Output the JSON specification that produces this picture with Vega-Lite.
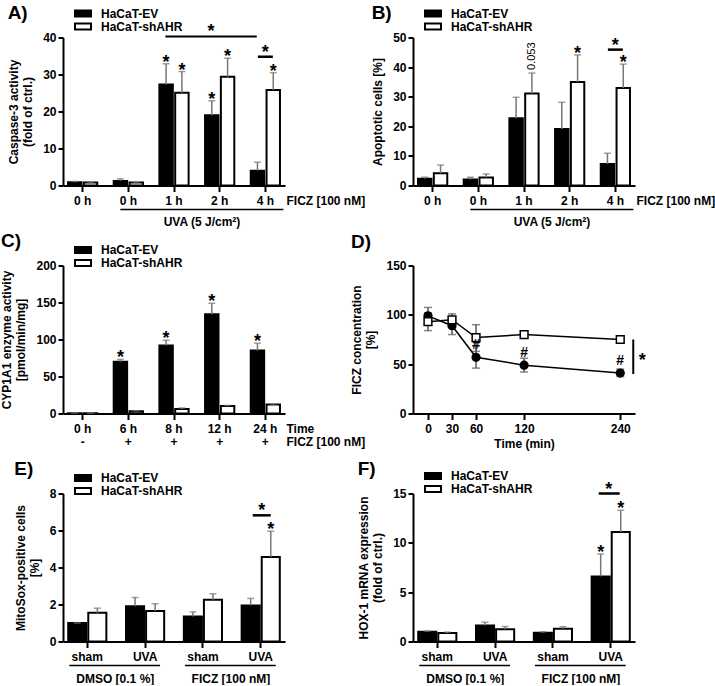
{
  "$schema": "https://vega.github.io/schema/vega-lite/v6.json",
  "padding": {"left": 0, "top": 3.5, "right": 0, "bottom": 0},
  "columns": 2,
  "spacing": {"column": 128, "row": 80},
  "bounds": "flush",
  "align": "each",
  "resolve": {"scale": {"x": "independent", "y": "independent", "xOffset": "independent", "fill": "independent", "shape": "independent"}, "legend": {"fill": "independent", "shape": "independent"}},
  "datasets": {
    "A": [
      {"grp": "0 h", "cell": "HaCaT-EV", "mean": 0.9, "hi": 1.1, "star": ""},
      {"grp": "0 h", "cell": "HaCaT-shAHR", "mean": 0.8, "hi": 0.9, "star": ""},
      {"grp": "0 h UVA", "cell": "HaCaT-EV", "mean": 1.2, "hi": 1.8, "star": ""},
      {"grp": "0 h UVA", "cell": "HaCaT-shAHR", "mean": 0.8, "hi": 0.9, "star": ""},
      {"grp": "1 h", "cell": "HaCaT-EV", "mean": 27.3, "hi": 32.9, "star": "*"},
      {"grp": "1 h", "cell": "HaCaT-shAHR", "mean": 25.1, "hi": 30.8, "star": "*"},
      {"grp": "2 h", "cell": "HaCaT-EV", "mean": 19.0, "hi": 22.9, "star": "*"},
      {"grp": "2 h", "cell": "HaCaT-shAHR", "mean": 29.4, "hi": 34.4, "star": "*"},
      {"grp": "4 h", "cell": "HaCaT-EV", "mean": 4.0, "hi": 6.3, "star": ""},
      {"grp": "4 h", "cell": "HaCaT-shAHR", "mean": 25.8, "hi": 30.5, "star": "*"}
    ],
    "A_pair": [{"grp": "4 h", "level": 34.8, "lab": "*"}],
    "A_long": [{"from": "1 h", "to": "4 h", "mid": "2 h", "level": 40.3, "lab": "*"}],
    "UVA_line": [{"from": "0 h UVA", "to": "4 h", "mid": "1 h", "lab": "UVA (5 J/cm²)"}],
    "B": [
      {"grp": "0 h", "cell": "HaCaT-EV", "mean": 2.3, "hi": 2.8, "star": "", "note": ""},
      {"grp": "0 h", "cell": "HaCaT-shAHR", "mean": 4.1, "hi": 6.9, "star": "", "note": ""},
      {"grp": "0 h UVA", "cell": "HaCaT-EV", "mean": 2.0, "hi": 2.8, "star": "", "note": ""},
      {"grp": "0 h UVA", "cell": "HaCaT-shAHR", "mean": 2.7, "hi": 3.9, "star": "", "note": ""},
      {"grp": "1 h", "cell": "HaCaT-EV", "mean": 22.7, "hi": 29.8, "star": "", "note": ""},
      {"grp": "1 h", "cell": "HaCaT-shAHR", "mean": 31.1, "hi": 38.0, "star": "", "note": "0.053"},
      {"grp": "2 h", "cell": "HaCaT-EV", "mean": 19.1, "hi": 28.1, "star": "", "note": ""},
      {"grp": "2 h", "cell": "HaCaT-shAHR", "mean": 35.0, "hi": 44.1, "star": "*", "note": ""},
      {"grp": "4 h", "cell": "HaCaT-EV", "mean": 7.3, "hi": 10.9, "star": "", "note": ""},
      {"grp": "4 h", "cell": "HaCaT-shAHR", "mean": 32.9, "hi": 41.0, "star": "*", "note": ""}
    ],
    "B_pair": [{"grp": "4 h", "level": 45.9, "lab": "*"}],
    "C": [
      {"grp": "0 h", "cell": "HaCaT-EV", "mean": 0.5, "hi": 0.6, "star": ""},
      {"grp": "0 h", "cell": "HaCaT-shAHR", "mean": 0.3, "hi": 0.4, "star": ""},
      {"grp": "6 h", "cell": "HaCaT-EV", "mean": 70, "hi": 73, "star": "*"},
      {"grp": "6 h", "cell": "HaCaT-shAHR", "mean": 3, "hi": 3.8, "star": ""},
      {"grp": "8 h", "cell": "HaCaT-EV", "mean": 92, "hi": 99, "star": "*"},
      {"grp": "8 h", "cell": "HaCaT-shAHR", "mean": 6, "hi": 7.5, "star": ""},
      {"grp": "12 h", "cell": "HaCaT-EV", "mean": 134, "hi": 149, "star": "*"},
      {"grp": "12 h", "cell": "HaCaT-shAHR", "mean": 10, "hi": 11, "star": ""},
      {"grp": "24 h", "cell": "HaCaT-EV", "mean": 85, "hi": 95, "star": "*"},
      {"grp": "24 h", "cell": "HaCaT-shAHR", "mean": 12, "hi": 13, "star": ""}
    ],
    "D": [
      {"t": 0, "g": "HaCaT-EV", "mean": 99, "lo": 91, "hi": 107.5, "hash": ""},
      {"t": 30, "g": "HaCaT-EV", "mean": 89, "lo": 80, "hi": 97.5, "hash": ""},
      {"t": 60, "g": "HaCaT-EV", "mean": 57, "lo": 46, "hi": 68.5, "hash": "#"},
      {"t": 120, "g": "HaCaT-EV", "mean": 49, "lo": 42, "hi": 56, "hash": "#"},
      {"t": 240, "g": "HaCaT-EV", "mean": 41, "lo": 37.5, "hi": 45, "hash": "#"},
      {"t": 0, "g": "HaCaT-shAHR", "mean": 93, "lo": 84, "hi": 102, "hash": ""},
      {"t": 30, "g": "HaCaT-shAHR", "mean": 95, "lo": 89, "hi": 101, "hash": ""},
      {"t": 60, "g": "HaCaT-shAHR", "mean": 77, "lo": 63, "hi": 90, "hash": ""},
      {"t": 120, "g": "HaCaT-shAHR", "mean": 80, "lo": 77, "hi": 83, "hash": ""},
      {"t": 240, "g": "HaCaT-shAHR", "mean": 75, "lo": 72, "hi": 78, "hash": ""}
    ],
    "D_sig": [{"t": 240, "low": 40, "high": 75, "lab": "*"}],
    "E": [
      {"grp": "DMSO sham", "cell": "HaCaT-EV", "mean": 1.0, "hi": 1.0, "star": ""},
      {"grp": "DMSO sham", "cell": "HaCaT-shAHR", "mean": 1.55, "hi": 1.8, "star": ""},
      {"grp": "DMSO UVA", "cell": "HaCaT-EV", "mean": 1.9, "hi": 2.38, "star": ""},
      {"grp": "DMSO UVA", "cell": "HaCaT-shAHR", "mean": 1.65, "hi": 2.04, "star": ""},
      {"grp": "FICZ sham", "cell": "HaCaT-EV", "mean": 1.35, "hi": 1.6, "star": ""},
      {"grp": "FICZ sham", "cell": "HaCaT-shAHR", "mean": 2.26, "hi": 2.58, "star": ""},
      {"grp": "FICZ UVA", "cell": "HaCaT-EV", "mean": 1.95, "hi": 2.33, "star": ""},
      {"grp": "FICZ UVA", "cell": "HaCaT-shAHR", "mean": 4.57, "hi": 5.96, "star": "*"}
    ],
    "E_pair": [{"grp": "FICZ UVA", "level": 6.82, "lab": "*"}],
    "F": [
      {"grp": "DMSO sham", "cell": "HaCaT-EV", "mean": 1.0, "hi": 1.05, "star": ""},
      {"grp": "DMSO sham", "cell": "HaCaT-shAHR", "mean": 0.85, "hi": 0.95, "star": ""},
      {"grp": "DMSO UVA", "cell": "HaCaT-EV", "mean": 1.62, "hi": 1.95, "star": ""},
      {"grp": "DMSO UVA", "cell": "HaCaT-shAHR", "mean": 1.25, "hi": 1.52, "star": ""},
      {"grp": "FICZ sham", "cell": "HaCaT-EV", "mean": 0.88, "hi": 1.0, "star": ""},
      {"grp": "FICZ sham", "cell": "HaCaT-shAHR", "mean": 1.3, "hi": 1.5, "star": ""},
      {"grp": "FICZ UVA", "cell": "HaCaT-EV", "mean": 6.6, "hi": 8.87, "star": "*"},
      {"grp": "FICZ UVA", "cell": "HaCaT-shAHR", "mean": 11.1, "hi": 13.3, "star": "*"}
    ],
    "F_pair": [{"grp": "FICZ UVA", "level": 15.0, "lab": "*"}],
    "treat": [
      {"from": "DMSO sham", "to": "DMSO UVA", "lab": "DMSO [0.1 %]"},
      {"from": "FICZ sham", "to": "FICZ UVA", "lab": "FICZ [100 nM]"}
    ]
  },
  "concat": [
    {
      "width": 222, "height": 148,
      "title": {"text": "A)", "offset": -15.8},
      "layer": [
        {
          "data": {"name": "A"},
          "mark": {"type": "bar", "stroke": "black", "strokeWidth": 2},
          "encoding": {
            "x": {"field": "grp", "type": "nominal", "scale": {"domain": ["0 h", "0 h UVA", "1 h", "2 h", "4 h"], "paddingInner": 0.36, "paddingOuter": 0.11},
                  "axis": {"title": "FICZ [100 nM]", "titleX": 223, "titleY": 10, "titleAlign": "left", "titleBaseline": "top", "titleAnchor": null, "labelExpr": "datum.value == '0 h UVA' ? '0 h' : datum.value"}},
            "xOffset": {"field": "cell", "type": "nominal", "scale": {"domain": ["HaCaT-EV", "HaCaT-shAHR"], "paddingInner": 0.15, "paddingOuter": 0}},
            "y": {"field": "mean", "type": "quantitative", "scale": {"domain": [0, 40], "nice": false}, "axis": {"values": [0, 10, 20, 30, 40], "labelOverlap": false, "title": ["Caspase-3 activity", "(fold of ctrl.)"]}},
            "fill": {"field": "cell", "type": "nominal", "scale": {"domain": ["HaCaT-EV", "HaCaT-shAHR"], "range": ["black", "white"]}, "legend": {"title": null, "legendY": -30, "legendX": 14, "rowPadding": -3}}
          }
        },
        {"data": {"name": "A"}, "mark": {"type": "rule", "color": "#777777", "strokeWidth": 1.5},
         "encoding": {"x": {"field": "grp", "type": "nominal"}, "xOffset": {"field": "cell", "type": "nominal"}, "y": {"field": "mean", "type": "quantitative", "axis": {"values": [0, 10, 20, 30, 40], "labelOverlap": false, "title": ["Caspase-3 activity", "(fold of ctrl.)"]}}, "y2": {"field": "hi"}}},
        {"data": {"name": "A"}, "mark": {"type": "tick", "orient": "horizontal", "size": 7, "thickness": 1.5, "color": "#777777"},
         "encoding": {"x": {"field": "grp", "type": "nominal"}, "xOffset": {"field": "cell", "type": "nominal"}, "y": {"field": "hi", "type": "quantitative", "axis": {"values": [0, 10, 20, 30, 40], "labelOverlap": false, "title": ["Caspase-3 activity", "(fold of ctrl.)"]}}}},
        {"data": {"name": "A"}, "mark": {"type": "text", "fontSize": 18, "fontWeight": "bold", "baseline": "alphabetic", "dy": 4},
         "encoding": {"x": {"field": "grp", "type": "nominal"}, "xOffset": {"field": "cell", "type": "nominal"}, "y": {"field": "hi", "type": "quantitative", "axis": {"values": [0, 10, 20, 30, 40], "labelOverlap": false, "title": ["Caspase-3 activity", "(fold of ctrl.)"]}}, "text": {"field": "star"}}},
        {"data": {"name": "A_pair"}, "mark": {"type": "rule", "color": "black", "strokeWidth": 2.5, "xOffset": -7.5, "x2Offset": 7.5},
         "encoding": {"x": {"field": "grp", "type": "nominal"}, "x2": {"field": "grp"}, "y": {"field": "level", "type": "quantitative", "axis": {"values": [0, 10, 20, 30, 40], "labelOverlap": false, "title": ["Caspase-3 activity", "(fold of ctrl.)"]}}}},
        {"data": {"name": "A_pair"}, "mark": {"type": "text", "fontSize": 18, "fontWeight": "bold", "baseline": "alphabetic", "dy": 1},
         "encoding": {"x": {"field": "grp", "type": "nominal"}, "y": {"field": "level", "type": "quantitative", "axis": {"values": [0, 10, 20, 30, 40], "labelOverlap": false, "title": ["Caspase-3 activity", "(fold of ctrl.)"]}}, "text": {"field": "lab"}}},
        {"data": {"name": "A_long"}, "mark": {"type": "rule", "color": "black", "strokeWidth": 2, "xOffset": -8.6, "x2Offset": -8.6},
         "encoding": {"x": {"field": "from", "type": "nominal"}, "x2": {"field": "to"}, "y": {"field": "level", "type": "quantitative", "axis": {"values": [0, 10, 20, 30, 40], "labelOverlap": false, "title": ["Caspase-3 activity", "(fold of ctrl.)"]}}}},
        {"data": {"name": "A_long"}, "mark": {"type": "text", "fontSize": 18, "fontWeight": "bold", "baseline": "alphabetic", "dy": 1, "xOffset": -8.6},
         "encoding": {"x": {"field": "mid", "type": "nominal"}, "y": {"field": "level", "type": "quantitative", "axis": {"values": [0, 10, 20, 30, 40], "labelOverlap": false, "title": ["Caspase-3 activity", "(fold of ctrl.)"]}}, "text": {"field": "lab"}}},
        {"data": {"name": "UVA_line"}, "mark": {"type": "rule", "color": "black", "strokeWidth": 1.5, "yOffset": 24, "xOffset": -8, "x2Offset": 18},
         "encoding": {"x": {"field": "from", "type": "nominal"}, "x2": {"field": "to"}, "y": {"datum": 0, "type": "quantitative", "axis": {"values": [0, 10, 20, 30, 40], "labelOverlap": false, "title": ["Caspase-3 activity", "(fold of ctrl.)"]}}}},
        {"data": {"name": "UVA_line"}, "mark": {"type": "text", "fontSize": 12, "fontWeight": "bold", "baseline": "alphabetic", "dy": 40, "dx": 28},
         "encoding": {"x": {"field": "mid", "type": "nominal"}, "y": {"datum": 0, "type": "quantitative", "axis": {"values": [0, 10, 20, 30, 40], "labelOverlap": false, "title": ["Caspase-3 activity", "(fold of ctrl.)"]}}, "text": {"field": "lab"}}}
      ]
    },
    {
      "width": 222, "height": 148,
      "title": {"text": "B)", "offset": -15.8},
      "layer": [
        {
          "data": {"name": "B"},
          "mark": {"type": "bar", "stroke": "black", "strokeWidth": 2},
          "encoding": {
            "x": {"field": "grp", "type": "nominal", "scale": {"domain": ["0 h", "0 h UVA", "1 h", "2 h", "4 h"], "paddingInner": 0.36, "paddingOuter": 0.11},
                  "axis": {"title": "FICZ [100 nM]", "titleX": 223, "titleY": 10, "titleAlign": "left", "titleBaseline": "top", "titleAnchor": null, "labelExpr": "datum.value == '0 h UVA' ? '0 h' : datum.value"}},
            "xOffset": {"field": "cell", "type": "nominal", "scale": {"domain": ["HaCaT-EV", "HaCaT-shAHR"], "paddingInner": 0.15, "paddingOuter": 0}},
            "y": {"field": "mean", "type": "quantitative", "scale": {"domain": [0, 50], "nice": false}, "axis": {"values": [0, 10, 20, 30, 40, 50], "labelOverlap": false, "title": "Apoptotic cells [%]"}},
            "fill": {"field": "cell", "type": "nominal", "scale": {"domain": ["HaCaT-EV", "HaCaT-shAHR"], "range": ["black", "white"]}, "legend": {"title": null, "legendY": -30, "legendX": 14, "rowPadding": -3}}
          }
        },
        {"data": {"name": "B"}, "mark": {"type": "rule", "color": "#777777", "strokeWidth": 1.5},
         "encoding": {"x": {"field": "grp", "type": "nominal"}, "xOffset": {"field": "cell", "type": "nominal"}, "y": {"field": "mean", "type": "quantitative", "axis": {"values": [0, 10, 20, 30, 40, 50], "labelOverlap": false, "title": "Apoptotic cells [%]"}}, "y2": {"field": "hi"}}},
        {"data": {"name": "B"}, "mark": {"type": "tick", "orient": "horizontal", "size": 7, "thickness": 1.5, "color": "#777777"},
         "encoding": {"x": {"field": "grp", "type": "nominal"}, "xOffset": {"field": "cell", "type": "nominal"}, "y": {"field": "hi", "type": "quantitative", "axis": {"values": [0, 10, 20, 30, 40, 50], "labelOverlap": false, "title": "Apoptotic cells [%]"}}}},
        {"data": {"name": "B"}, "mark": {"type": "text", "fontSize": 18, "fontWeight": "bold", "baseline": "alphabetic", "dy": 4},
         "encoding": {"x": {"field": "grp", "type": "nominal"}, "xOffset": {"field": "cell", "type": "nominal"}, "y": {"field": "hi", "type": "quantitative", "axis": {"values": [0, 10, 20, 30, 40, 50], "labelOverlap": false, "title": "Apoptotic cells [%]"}}, "text": {"field": "star"}}},
        {"data": {"name": "B"}, "mark": {"type": "text", "fontSize": 11, "angle": 270, "align": "left", "baseline": "middle", "dx": 3},
         "encoding": {"x": {"field": "grp", "type": "nominal"}, "xOffset": {"field": "cell", "type": "nominal"}, "y": {"field": "hi", "type": "quantitative", "axis": {"values": [0, 10, 20, 30, 40, 50], "labelOverlap": false, "title": "Apoptotic cells [%]"}}, "text": {"field": "note"}}},
        {"data": {"name": "B_pair"}, "mark": {"type": "rule", "color": "black", "strokeWidth": 2.5, "xOffset": -7.5, "x2Offset": 7.5},
         "encoding": {"x": {"field": "grp", "type": "nominal"}, "x2": {"field": "grp"}, "y": {"field": "level", "type": "quantitative", "axis": {"values": [0, 10, 20, 30, 40, 50], "labelOverlap": false, "title": "Apoptotic cells [%]"}}}},
        {"data": {"name": "B_pair"}, "mark": {"type": "text", "fontSize": 18, "fontWeight": "bold", "baseline": "alphabetic", "dy": 1},
         "encoding": {"x": {"field": "grp", "type": "nominal"}, "y": {"field": "level", "type": "quantitative", "axis": {"values": [0, 10, 20, 30, 40, 50], "labelOverlap": false, "title": "Apoptotic cells [%]"}}, "text": {"field": "lab"}}},
        {"data": {"name": "UVA_line"}, "mark": {"type": "rule", "color": "black", "strokeWidth": 1.5, "yOffset": 24, "xOffset": -8, "x2Offset": 18},
         "encoding": {"x": {"field": "from", "type": "nominal"}, "x2": {"field": "to"}, "y": {"datum": 0, "type": "quantitative", "axis": {"values": [0, 10, 20, 30, 40, 50], "labelOverlap": false, "title": "Apoptotic cells [%]"}}}},
        {"data": {"name": "UVA_line"}, "mark": {"type": "text", "fontSize": 12, "fontWeight": "bold", "baseline": "alphabetic", "dy": 40, "dx": 28},
         "encoding": {"x": {"field": "mid", "type": "nominal"}, "y": {"datum": 0, "type": "quantitative", "axis": {"values": [0, 10, 20, 30, 40, 50], "labelOverlap": false, "title": "Apoptotic cells [%]"}}, "text": {"field": "lab"}}}
      ]
    },
    {
      "width": 222, "height": 148,
      "title": {"text": "C)", "offset": -15.8},
      "layer": [
        {
          "data": {"name": "C"},
          "mark": {"type": "bar", "stroke": "black", "strokeWidth": 2},
          "encoding": {
            "x": {"field": "grp", "type": "nominal", "scale": {"domain": ["0 h", "6 h", "8 h", "12 h", "24 h"], "paddingInner": 0.36, "paddingOuter": 0.11},
                  "axis": {"title": ["Time", "FICZ [100 nM]"], "titleX": 223, "titleY": 10, "titleAlign": "left", "titleBaseline": "top", "titleAnchor": null, "titleLineHeight": 13, "labelLineHeight": 13, "labelExpr": "[datum.value, datum.value == '0 h' ? '-' : '+']"}},
            "xOffset": {"field": "cell", "type": "nominal", "scale": {"domain": ["HaCaT-EV", "HaCaT-shAHR"], "paddingInner": 0.15, "paddingOuter": 0}},
            "y": {"field": "mean", "type": "quantitative", "scale": {"domain": [0, 200], "nice": false}, "axis": {"values": [0, 50, 100, 150, 200], "labelOverlap": false, "title": ["CYP1A1 enzyme activity", "[pmol/min/mg]"]}},
            "fill": {"field": "cell", "type": "nominal", "scale": {"domain": ["HaCaT-EV", "HaCaT-shAHR"], "range": ["black", "white"]}, "legend": {"title": null, "legendY": -30, "legendX": 5.5, "padding": 8.5, "rowPadding": -3}}
          }
        },
        {"data": {"name": "C"}, "mark": {"type": "rule", "color": "#777777", "strokeWidth": 1.5},
         "encoding": {"x": {"field": "grp", "type": "nominal"}, "xOffset": {"field": "cell", "type": "nominal"}, "y": {"field": "mean", "type": "quantitative", "axis": {"values": [0, 50, 100, 150, 200], "labelOverlap": false, "title": ["CYP1A1 enzyme activity", "[pmol/min/mg]"]}}, "y2": {"field": "hi"}}},
        {"data": {"name": "C"}, "mark": {"type": "tick", "orient": "horizontal", "size": 7, "thickness": 1.5, "color": "#777777"},
         "encoding": {"x": {"field": "grp", "type": "nominal"}, "xOffset": {"field": "cell", "type": "nominal"}, "y": {"field": "hi", "type": "quantitative", "axis": {"values": [0, 50, 100, 150, 200], "labelOverlap": false, "title": ["CYP1A1 enzyme activity", "[pmol/min/mg]"]}}}},
        {"data": {"name": "C"}, "mark": {"type": "text", "fontSize": 18, "fontWeight": "bold", "baseline": "alphabetic", "dy": 4},
         "encoding": {"x": {"field": "grp", "type": "nominal"}, "xOffset": {"field": "cell", "type": "nominal"}, "y": {"field": "hi", "type": "quantitative", "axis": {"values": [0, 50, 100, 150, 200], "labelOverlap": false, "title": ["CYP1A1 enzyme activity", "[pmol/min/mg]"]}}, "text": {"field": "star"}}}
      ]
    },
    {
      "width": 222, "height": 148,
      "title": {"text": "D)", "offset": 7.2},
      "layer": [
        {"data": {"name": "D"}, "mark": {"type": "rule", "color": "#555555", "strokeWidth": 1.5},
         "encoding": {"x": {"field": "t", "type": "quantitative", "scale": {"domain": [-18.7, 258.4], "nice": false, "zero": false},
                            "axis": {"values": [0, 30, 60, 120, 240], "labelOverlap": false, "title": "Time (min)", "titlePadding": 4}},
                      "y": {"field": "lo", "type": "quantitative", "scale": {"domain": [0, 150], "nice": false}, "axis": {"values": [0, 50, 100, 150], "labelOverlap": false, "title": ["FICZ concentration", "[%]"]}},
                      "y2": {"field": "hi"}}},
        {"data": {"name": "D"}, "mark": {"type": "tick", "orient": "horizontal", "size": 8, "thickness": 1.5, "color": "#555555"},
         "encoding": {"x": {"field": "t", "type": "quantitative"}, "y": {"field": "lo", "type": "quantitative"}}},
        {"data": {"name": "D"}, "mark": {"type": "tick", "orient": "horizontal", "size": 8, "thickness": 1.5, "color": "#555555"},
         "encoding": {"x": {"field": "t", "type": "quantitative"}, "y": {"field": "hi", "type": "quantitative"}}},
        {"data": {"name": "D"}, "mark": {"type": "line", "color": "black", "strokeWidth": 1.5},
         "encoding": {"x": {"field": "t", "type": "quantitative"}, "y": {"field": "mean", "type": "quantitative"}, "detail": {"field": "g"}}},
        {"data": {"name": "D"}, "mark": {"type": "point", "filled": true, "opacity": 1, "stroke": "black", "strokeWidth": 1.5, "size": 60},
         "encoding": {"x": {"field": "t", "type": "quantitative"}, "y": {"field": "mean", "type": "quantitative"},
                      "shape": {"field": "g", "type": "nominal", "scale": {"domain": ["HaCaT-EV", "HaCaT-shAHR"], "range": ["circle", "square"]}, "legend": null},
                      "fill": {"field": "g", "type": "nominal", "scale": {"domain": ["HaCaT-EV", "HaCaT-shAHR"], "range": ["black", "white"]},
                               "legend": {"title": null, "legendX": 5, "legendY": -30, "padding": 8.5, "rowPadding": -3, "symbolStrokeWidth": 1.5, "labelOffset": 12.5,
                                          "encode": {"symbols": {"update": {"shape": {"signal": "datum.value === 'HaCaT-EV' ? 'M-1.5,0H-0.76M0.76,0H1.5M-0.76,0A0.76,0.76 0 1,0 0.76,0A0.76,0.76 0 1,0 -0.76,0Z' : 'M-1.5,0H-0.84M0.84,0H1.5M-0.84,-0.84H0.84V0.84H-0.84Z'"}}}}}}}},
        {"data": {"name": "D"}, "mark": {"type": "text", "fontSize": 14, "fontWeight": "bold", "baseline": "middle", "dy": -12},
         "encoding": {"x": {"field": "t", "type": "quantitative"}, "y": {"field": "mean", "type": "quantitative"}, "text": {"field": "hash"}}},
        {"data": {"name": "D_sig"}, "mark": {"type": "rule", "color": "black", "strokeWidth": 2, "xOffset": 13},
         "encoding": {"x": {"field": "t", "type": "quantitative"}, "y": {"field": "low", "type": "quantitative"}, "y2": {"field": "high"}}},
        {"data": {"name": "D_sig"}, "mark": {"type": "text", "fontSize": 18, "fontWeight": "bold", "baseline": "middle", "xOffset": 22, "yOffset": 4},
         "encoding": {"x": {"field": "t", "type": "quantitative"}, "y": {"datum": 57}, "text": {"field": "lab"}}}
      ]
    },
    {
      "width": 222, "height": 148,
      "title": {"text": "E)", "offset": -15.8},
      "layer": [
        {
          "data": {"name": "E"},
          "mark": {"type": "bar", "stroke": "black", "strokeWidth": 2},
          "encoding": {
            "x": {"field": "grp", "type": "nominal", "scale": {"domain": ["DMSO sham", "DMSO UVA", "FICZ sham", "FICZ UVA"], "paddingInner": 0.34, "paddingOuter": 0.09},
                  "axis": {"title": null, "labelExpr": "split(datum.value, ' ')[1]"}},
            "xOffset": {"field": "cell", "type": "nominal", "scale": {"domain": ["HaCaT-EV", "HaCaT-shAHR"], "paddingInner": 0.1, "paddingOuter": 0}},
            "y": {"field": "mean", "type": "quantitative", "scale": {"domain": [0, 8], "nice": false}, "axis": {"values": [0, 2, 4, 6, 8], "labelOverlap": false, "title": ["MitoSox-positive cells", "[%]"]}},
            "fill": {"field": "cell", "type": "nominal", "scale": {"domain": ["HaCaT-EV", "HaCaT-shAHR"], "range": ["black", "white"]}, "legend": {"title": null, "legendY": -30, "legendX": 5.5, "padding": 8.5, "rowPadding": -3}}
          }
        },
        {"data": {"name": "E"}, "mark": {"type": "rule", "color": "#777777", "strokeWidth": 1.5},
         "encoding": {"x": {"field": "grp", "type": "nominal"}, "xOffset": {"field": "cell", "type": "nominal"}, "y": {"field": "mean", "type": "quantitative", "axis": {"values": [0, 2, 4, 6, 8], "labelOverlap": false, "title": ["MitoSox-positive cells", "[%]"]}}, "y2": {"field": "hi"}}},
        {"data": {"name": "E"}, "mark": {"type": "tick", "orient": "horizontal", "size": 7, "thickness": 1.5, "color": "#777777"},
         "encoding": {"x": {"field": "grp", "type": "nominal"}, "xOffset": {"field": "cell", "type": "nominal"}, "y": {"field": "hi", "type": "quantitative", "axis": {"values": [0, 2, 4, 6, 8], "labelOverlap": false, "title": ["MitoSox-positive cells", "[%]"]}}}},
        {"data": {"name": "E"}, "mark": {"type": "text", "fontSize": 18, "fontWeight": "bold", "baseline": "alphabetic", "dy": 4},
         "encoding": {"x": {"field": "grp", "type": "nominal"}, "xOffset": {"field": "cell", "type": "nominal"}, "y": {"field": "hi", "type": "quantitative", "axis": {"values": [0, 2, 4, 6, 8], "labelOverlap": false, "title": ["MitoSox-positive cells", "[%]"]}}, "text": {"field": "star"}}},
        {"data": {"name": "E_pair"}, "mark": {"type": "rule", "color": "black", "strokeWidth": 2.5, "xOffset": -8, "x2Offset": 10},
         "encoding": {"x": {"field": "grp", "type": "nominal"}, "x2": {"field": "grp"}, "y": {"field": "level", "type": "quantitative", "axis": {"values": [0, 2, 4, 6, 8], "labelOverlap": false, "title": ["MitoSox-positive cells", "[%]"]}}}},
        {"data": {"name": "E_pair"}, "mark": {"type": "text", "fontSize": 18, "fontWeight": "bold", "baseline": "alphabetic", "dy": 1, "xOffset": 1},
         "encoding": {"x": {"field": "grp", "type": "nominal"}, "y": {"field": "level", "type": "quantitative", "axis": {"values": [0, 2, 4, 6, 8], "labelOverlap": false, "title": ["MitoSox-positive cells", "[%]"]}}, "text": {"field": "lab"}}},
        {"data": {"name": "treat"}, "mark": {"type": "rule", "color": "black", "strokeWidth": 1.5, "yOffset": 24, "xOffset": -18, "x2Offset": 15},
         "encoding": {"x": {"field": "from", "type": "nominal"}, "x2": {"field": "to"}, "y": {"datum": 0, "type": "quantitative", "axis": {"values": [0, 2, 4, 6, 8], "labelOverlap": false, "title": ["MitoSox-positive cells", "[%]"]}}}},
        {"data": {"name": "treat"}, "mark": {"type": "text", "fontSize": 12, "fontWeight": "bold", "baseline": "alphabetic", "dy": 41, "dx": 28},
         "encoding": {"x": {"field": "from", "type": "nominal"}, "y": {"datum": 0, "type": "quantitative", "axis": {"values": [0, 2, 4, 6, 8], "labelOverlap": false, "title": ["MitoSox-positive cells", "[%]"]}}, "text": {"field": "lab"}}}
      ]
    },
    {
      "width": 222, "height": 148,
      "title": {"text": "F)", "offset": -15.8},
      "layer": [
        {
          "data": {"name": "F"},
          "mark": {"type": "bar", "stroke": "black", "strokeWidth": 2},
          "encoding": {
            "x": {"field": "grp", "type": "nominal", "scale": {"domain": ["DMSO sham", "DMSO UVA", "FICZ sham", "FICZ UVA"], "paddingInner": 0.34, "paddingOuter": 0.09},
                  "axis": {"title": null, "labelExpr": "split(datum.value, ' ')[1]"}},
            "xOffset": {"field": "cell", "type": "nominal", "scale": {"domain": ["HaCaT-EV", "HaCaT-shAHR"], "paddingInner": 0.1, "paddingOuter": 0}},
            "y": {"field": "mean", "type": "quantitative", "scale": {"domain": [0, 15], "nice": false}, "axis": {"values": [0, 5, 10, 15], "labelOverlap": false, "title": ["HOX-1 mRNA expression", "(fold of ctrl.)"]}},
            "fill": {"field": "cell", "type": "nominal", "scale": {"domain": ["HaCaT-EV", "HaCaT-shAHR"], "range": ["black", "white"]}, "legend": {"title": null, "legendY": -30, "legendX": 7.5, "padding": 6.5, "rowPadding": -3}}
          }
        },
        {"data": {"name": "F"}, "mark": {"type": "rule", "color": "#777777", "strokeWidth": 1.5},
         "encoding": {"x": {"field": "grp", "type": "nominal"}, "xOffset": {"field": "cell", "type": "nominal"}, "y": {"field": "mean", "type": "quantitative"}, "y2": {"field": "hi"}}},
        {"data": {"name": "F"}, "mark": {"type": "tick", "orient": "horizontal", "size": 7, "thickness": 1.5, "color": "#777777"},
         "encoding": {"x": {"field": "grp", "type": "nominal"}, "xOffset": {"field": "cell", "type": "nominal"}, "y": {"field": "hi", "type": "quantitative"}}},
        {"data": {"name": "F"}, "mark": {"type": "text", "fontSize": 18, "fontWeight": "bold", "baseline": "alphabetic", "dy": 4},
         "encoding": {"x": {"field": "grp", "type": "nominal"}, "xOffset": {"field": "cell", "type": "nominal"}, "y": {"field": "hi", "type": "quantitative"}, "text": {"field": "star"}}},
        {"data": {"name": "F_pair"}, "mark": {"type": "rule", "color": "black", "strokeWidth": 2.5, "xOffset": -12, "x2Offset": 9},
         "encoding": {"x": {"field": "grp", "type": "nominal"}, "x2": {"field": "grp"}, "y": {"field": "level", "type": "quantitative"}}},
        {"data": {"name": "F_pair"}, "mark": {"type": "text", "fontSize": 18, "fontWeight": "bold", "baseline": "alphabetic", "dy": 1, "xOffset": -2},
         "encoding": {"x": {"field": "grp", "type": "nominal"}, "y": {"field": "level", "type": "quantitative"}, "text": {"field": "lab"}}},
        {"data": {"name": "treat"}, "mark": {"type": "rule", "color": "black", "strokeWidth": 1.5, "yOffset": 24, "xOffset": -18, "x2Offset": 15},
         "encoding": {"x": {"field": "from", "type": "nominal"}, "x2": {"field": "to"}, "y": {"datum": 0}}},
        {"data": {"name": "treat"}, "mark": {"type": "text", "fontSize": 12, "fontWeight": "bold", "baseline": "alphabetic", "dy": 41, "dx": 28},
         "encoding": {"x": {"field": "from", "type": "nominal"}, "y": {"datum": 0}, "text": {"field": "lab"}}}
      ]
    }
  ],
  "config": {
    "font": "Liberation Sans",
    "view": {"stroke": null},
    "axis": {"grid": false, "domainColor": "black", "domainWidth": 2, "tickColor": "black", "tickWidth": 2, "labelOverlap": false,
             "labelColor": "black", "labelFont": "Liberation Sans", "labelFontSize": 12, "labelFontWeight": "bold",
             "titleColor": "black", "titleFont": "Liberation Sans", "titleFontSize": 12, "titleFontWeight": "bold", "titleLineHeight": 14},
    "axisX": {"tickSize": 6, "labelPadding": 4, "labelAngle": 0},
    "axisY": {"tickSize": 5, "labelPadding": 2, "titlePadding": 8, "labelOverlap": false},
    "axisQuantitative": {"labelOverlap": false},
    "legend": {"orient": "none", "padding": 0, "labelFont": "Liberation Sans", "labelFontSize": 12, "labelFontWeight": "bold", "labelColor": "black",
               "symbolType": "M-1.6,-0.6H1.6V0.6H-1.6Z", "symbolSize": 100, "symbolStrokeColor": "black", "symbolStrokeWidth": 2, "labelOffset": 12},
    "title": {"anchor": "start", "frame": "bounds", "fontSize": 19, "fontWeight": "bold", "color": "black", "font": "Liberation Sans", "baseline": "alphabetic"},
    "text": {"font": "Liberation Sans", "color": "black"}
  }
}
